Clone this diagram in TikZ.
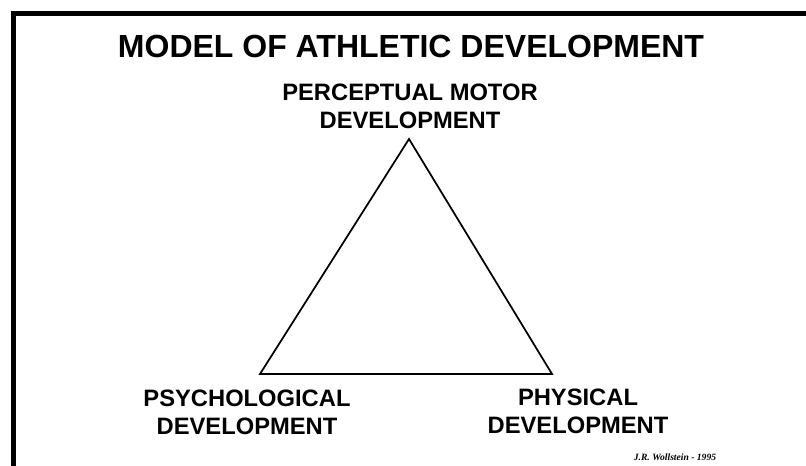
\documentclass[tikz,border=0pt]{standalone}
\usepackage{fontspec}
\setmainfont{Liberation Sans}
\newfontfamily\authorfont{Liberation Serif}
\usepackage{tikz}

\tikzset{
  heading/.style={font=\fontsize{24}{28}\selectfont\bfseries},
  corner/.style={font=\fontsize{17.8}{21}\selectfont\bfseries, align=center, inner sep=0pt},
  side/.style={line width=1.3pt, line join=miter},
}

\begin{document}
\begin{tikzpicture}[x=0.75pt, y=-0.75pt]

  % Page size and the cut-off frame
  \useasboundingbox (0,0) rectangle (806,466);
  \clip (0,0) rectangle (806,466);
  \draw[line width=3.8pt] (13.5,13.5) rectangle (830,490);

  % Title
  \node[heading] (title) at (411,46) {MODEL OF ATHLETIC DEVELOPMENT};

  % Corners of the triangle
  \coordinate (top) at (409,139);
  \coordinate (left) at (260,374);
  \coordinate (right) at (552,374);
  \draw[side] (top) -- (left) -- (right) -- cycle;

  % Labels at the corners
  \node[corner] (perceptual) at (410,106) {PERCEPTUAL MOTOR\\DEVELOPMENT};
  \node[corner] (psych) at (247,412) {PSYCHOLOGICAL\\DEVELOPMENT};
  \node[corner] (physical) at (578,411) {PHYSICAL\\DEVELOPMENT};

  % Author line
  \node[font=\authorfont\fontsize{7.2}{8}\selectfont\bfseries\itshape] (author) at (675,457) {J.R. Wollstein - 1995};

\end{tikzpicture}
\end{document}
